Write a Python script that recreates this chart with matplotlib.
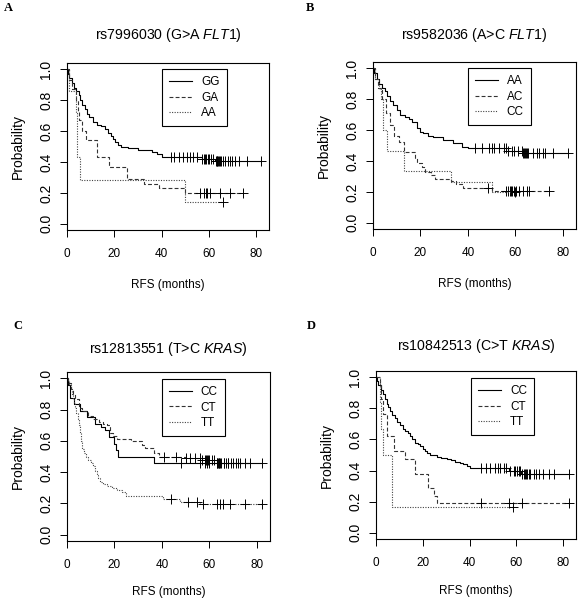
import numpy as np
import matplotlib
matplotlib.use("Agg")
import matplotlib.pyplot as plt
from matplotlib.lines import Line2D

plt.rcParams['font.family'] = ['Liberation Sans', 'DejaVu Sans']
plt.rcParams['mathtext.fontset'] = 'custom'
plt.rcParams['mathtext.rm'] = 'Liberation Sans'
plt.rcParams['mathtext.it'] = 'Liberation Sans:italic'

# ---- data (event times / survival after the drop / censor times)
# A: rs7996030 FLT1
a_gg_t = [0.5, 1, 2, 3, 4, 5, 5.6, 6.5, 7.5, 8.5, 9.5, 11, 12.5, 14.5, 16, 17.5, 18.5, 19.5,
          20.5, 21.5, 23, 26, 30, 33, 36, 38, 40, 57, 62.5]
a_gg_s = [0.97, 0.94, 0.91, 0.88, 0.86, 0.83, 0.80, 0.77, 0.74, 0.71, 0.69, 0.66, 0.64, 0.63,
          0.61, 0.59, 0.57, 0.55, 0.53, 0.51, 0.50, 0.49, 0.48, 0.475, 0.465, 0.45, 0.43, 0.42, 0.405]
a_gg_c = [44, 45.5, 47.5, 49, 51, 52, 53.5, 55, 57, 58, 58.5, 59, 59.5, 60, 61, 62, 63, 63.3,
          63.6, 64, 64.3, 64.6, 65, 66, 67, 68, 69, 70, 71, 73, 76, 82]
a_ga_t = [1, 2, 3.8, 4.5, 5, 6.5, 8, 12.7, 17.6, 25.4, 32.5, 38.8, 50]
a_ga_s = [0.93, 0.87, 0.80, 0.73, 0.67, 0.60, 0.54, 0.43, 0.37, 0.29, 0.26, 0.23, 0.20]
a_ga_c = [56.3, 58, 58.7, 59.4, 60.5, 64.6, 68.8, 74.7]
a_aa_t = [1, 4, 4.3, 5.5, 50]
a_aa_s = [0.857, 0.714, 0.429, 0.286, 0.143]
a_aa_c = [66]

# B: rs9582036 FLT1
b_aa_t = [0.5, 1.5, 2.5, 3.6, 5, 6, 7.2, 8.5, 10, 11.5, 13.5, 15, 16.3, 18.4, 20, 21.2, 23,
          25.4, 29.6, 33.8, 37.3, 40, 57, 63]
b_aa_s = [0.97, 0.93, 0.90, 0.875, 0.85, 0.82, 0.79, 0.76, 0.73, 0.70, 0.686, 0.67, 0.653, 0.61,
          0.59, 0.579, 0.56, 0.553, 0.536, 0.514, 0.492, 0.482, 0.465, 0.45]
b_aa_c = [43, 45.8, 49, 50, 51, 53, 55, 56, 57, 58.5, 59.5, 61, 62.7, 63.2, 63.6, 64, 64.4,
          64.8, 65.2, 67.5, 69, 70, 71.7, 72.5, 76, 82.2]
b_ac_t = [1, 2, 4, 5.5, 7, 9, 11, 13, 17.7, 18.5, 20.5, 22, 24.5, 26, 33, 35, 38, 50]
b_ac_s = [0.93, 0.87, 0.80, 0.71, 0.63, 0.56, 0.52, 0.46, 0.42, 0.39, 0.36, 0.33, 0.31, 0.285,
          0.27, 0.25, 0.224, 0.205]
b_ac_c = [48.5, 56.1, 56.8, 57.5, 58.2, 58.6, 59.2, 60.3, 61.7, 63.1, 64.8, 65.9, 74]
b_cc_t = [1, 2.5, 3.5, 4.2, 6, 13, 32.7, 50]
b_cc_s = [0.933, 0.867, 0.8, 0.6, 0.467, 0.333, 0.267, 0.2]
b_cc_c = [60]

# C: rs12813551 KRAS
c_cc_t = [0.5, 1.4, 2.8, 5.6, 8.4, 12, 14.5, 16, 17.5, 20, 20.5, 21.5, 36.5]
c_cc_s = [0.958, 0.875, 0.833, 0.792, 0.75, 0.708, 0.688, 0.667, 0.625, 0.583, 0.542, 0.5, 0.458]
c_cc_c = [48, 56, 58, 59, 60, 63, 64, 64.5, 66, 68, 72, 75, 82.2]
c_ct_t = [0.5, 1.5, 2.5, 3.5, 5, 6.5, 9, 11, 13.3, 15, 16.8, 18.2, 19.5, 21, 27, 31.6, 33,
          36.5, 38.6, 50, 57, 63]
c_ct_s = [0.97, 0.93, 0.9, 0.87, 0.81, 0.79, 0.76, 0.74, 0.72, 0.71, 0.70, 0.65, 0.63, 0.615,
          0.60, 0.575, 0.555, 0.525, 0.50, 0.49, 0.475, 0.46]
c_ct_c = [41, 46, 50, 52, 54, 56, 57, 58, 58.5, 59, 59.5, 60, 61, 62, 63, 63.5, 64, 65, 66,
          67, 68, 69, 70, 71, 73, 77]
c_tt_t = [0.5, 1, 1.5, 2, 2.5, 3, 3.5, 4, 4.5, 5, 5.5, 6, 6.5, 7, 8, 9, 10, 11, 12, 12.5, 13,
          14, 15, 17, 19, 21, 23, 25, 40.5, 47.5, 56]
c_tt_s = [0.98, 0.96, 0.93, 0.9, 0.87, 0.84, 0.81, 0.78, 0.74, 0.70, 0.65, 0.60, 0.55, 0.52,
          0.50, 0.48, 0.46, 0.44, 0.41, 0.38, 0.36, 0.34, 0.325, 0.31, 0.30, 0.285, 0.27, 0.245,
          0.23, 0.21, 0.195]
c_tt_c = [43.6, 51, 54.6, 57.4, 63, 64.4, 65.8, 68.6, 75, 82.2]

# D: rs10842513 KRAS
d_cc_t = [0.5, 1, 2, 3.1, 4, 4.6, 5.3, 6, 7, 8.1, 9, 10.3, 11.5, 12.4, 13.5, 14.6, 15.5, 16.7,
          18, 18.9, 20, 21, 22, 23.1, 26, 28, 30.3, 32, 33.9, 36, 37.4, 39, 40.3, 57, 62]
d_cc_s = [0.975, 0.95, 0.92, 0.89, 0.86, 0.83, 0.81, 0.785, 0.76, 0.74, 0.715, 0.69, 0.67,
          0.656, 0.64, 0.624, 0.60, 0.58, 0.57, 0.56, 0.54, 0.527, 0.51, 0.50, 0.488, 0.48,
          0.473, 0.465, 0.458, 0.45, 0.44, 0.43, 0.415, 0.40, 0.38]
d_cc_c = [45, 47, 48.6, 51, 52, 53, 54.6, 55.7, 57.2, 58.9, 59.5, 60.3, 61, 61.7, 62.5, 63.1,
          63.5, 64, 64.6, 65.3, 66, 67.4, 68.5, 69.6, 71.4, 73.9, 76, 82.5]
d_ct_t = [1.5, 2.3, 2.9, 4.9, 7.7, 12.4, 16.7, 22.4, 24.6, 26]
d_ct_s = [0.952, 0.857, 0.762, 0.619, 0.524, 0.476, 0.381, 0.286, 0.238, 0.19]
d_ct_c = [44.9, 57, 62.4, 82.5]
d_tt_t = [1.5, 2.1, 2.9, 6.7]
d_tt_s = [0.833, 0.667, 0.5, 0.167]
d_tt_c = [58.6]

titles = ['rs7996030 (G>A $\\mathit{FLT1}$)', 'rs9582036 (A>C $\\mathit{FLT1}$)',
          'rs12813551 (T>C $\\mathit{KRAS}$)', 'rs10842513 (C>T $\\mathit{KRAS}$)']
letters = ['A', 'B', 'C', 'D']
groups = [['GG', 'GA', 'AA'], ['AA', 'AC', 'CC'], ['CC', 'CT', 'TT'], ['CC', 'CT', 'TT']]
curves = [
    [(a_gg_t, a_gg_s, a_gg_c), (a_ga_t, a_ga_s, a_ga_c), (a_aa_t, a_aa_s, a_aa_c)],
    [(b_aa_t, b_aa_s, b_aa_c), (b_ac_t, b_ac_s, b_ac_c), (b_cc_t, b_cc_s, b_cc_c)],
    [(c_cc_t, c_cc_s, c_cc_c), (c_ct_t, c_ct_s, c_ct_c), (c_tt_t, c_tt_s, c_tt_c)],
    [(d_cc_t, d_cc_s, d_cc_c), (d_ct_t, d_ct_s, d_ct_c), (d_tt_t, d_tt_s, d_tt_c)],
]
xticks = [0, 20, 40, 60, 80]
yticks = [0.0, 0.2, 0.4, 0.6, 0.8, 1.0]

# ---- layout (pixels, from top-left of 580x600 image)
W, H = 580, 600
boxes = [(67, 63, 269, 230), (373, 62, 576, 229), (67, 372, 270, 541), (376, 371, 576, 539)]
title_pad = [17, 16.5, 14, 15]
xlabel_pad = [13.5, 13.5, 10.5, 11.5]
letter_xy = [(4, 8), (306, 8), (13, 326), (307, 326)]
legend_xy = [(0.470, 0.964), (0.466, 0.964), (0.466, 0.959), (0.475, 0.958)]
styles = [dict(ls='-', color='black'), dict(ls=(0, (3.5, 2)), color='#333333'),
          dict(ls=(0, (1, 1.3)), color='#444444')]

fig = plt.figure(figsize=(W / 100, H / 100), dpi=100)

for i in range(4):
    l, t, r, b = boxes[i]
    ax = fig.add_axes([l / W, 1 - b / H, (r - l) / W, (b - t) / H])
    for (et, es, ct), st in zip(curves[i], styles):
        tt = np.array([0.0] + list(et))
        ss = np.array([1.0] + list(es))
        tend = max(tt[-1], max(ct))
        ax.step(np.append(tt, tend), np.append(ss, ss[-1]), where='post', lw=0.8, **st)
        idx = np.searchsorted(tt, ct, side='right') - 1
        ax.plot(ct, ss[idx], '+', color='black', ms=7, mew=0.7)
    ax.set_xlim(0, 85.5)
    ax.set_ylim(-0.04, 1.04)
    ax.set_xticks(xticks)
    ax.set_yticks(yticks, ['%.1f' % v for v in yticks], rotation=90, va='center', fontsize=10)
    ax.tick_params(direction='out', length=5, width=0.7)
    ax.tick_params(axis='x', pad=8, labelsize=8.5)
    ax.tick_params(axis='y', pad=5)
    for sp in ax.spines.values():
        sp.set_linewidth(0.8)
    ax.set_xlabel('RFS (months)', fontsize=8.5, labelpad=xlabel_pad[i])
    ax.set_ylabel('Probability', fontsize=10, labelpad=10)
    ax.set_title(titles[i], fontsize=10.2, pad=title_pad[i])
    handles = [Line2D([], [], lw=0.8, **st) for st in styles]
    leg = ax.legend(handles, groups[i], loc='upper left', bbox_to_anchor=legend_xy[i],
                    borderaxespad=0, fontsize=8.5, handlelength=1.95, handletextpad=0.76,
                    labelspacing=0.3, borderpad=0.6, fancybox=False, framealpha=1)
    leg.get_frame().set_edgecolor('black')
    leg.get_frame().set_linewidth(0.8)
    lx, ly = letter_xy[i]
    fig.text(lx / W, 1 - ly / H, letters[i], fontsize=9, fontweight='bold',
             family=['Liberation Serif', 'DejaVu Serif'], va='center', ha='left')

fig.savefig('out.png', dpi=100)
